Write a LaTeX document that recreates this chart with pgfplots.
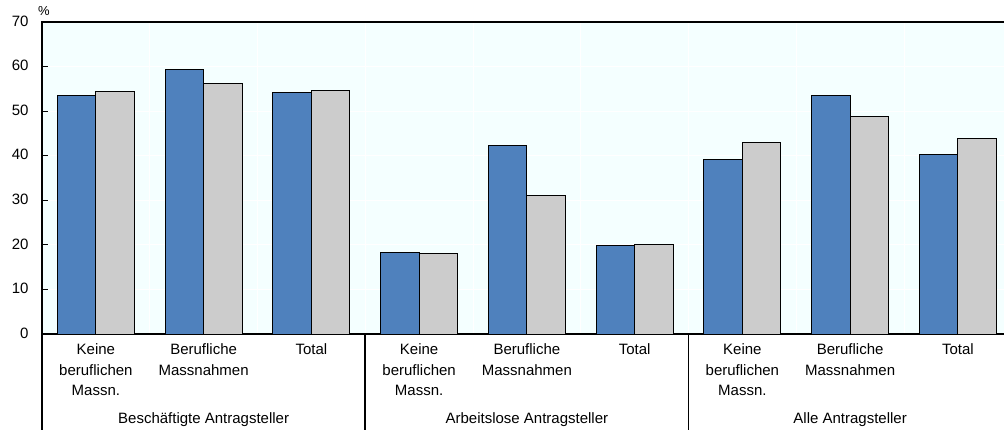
\documentclass[border=0pt]{standalone}
\usepackage{pgfplots}
\pgfplotsset{compat=1.18}
\usepackage{fontspec}
\setmainfont{Liberation Sans}
\definecolor{barblue}{RGB}{79,129,189}
\definecolor{bargrey}{RGB}{204,204,204}
\definecolor{bgcol}{RGB}{244,255,255}
\begin{document}
\begin{tikzpicture}
\useasboundingbox (-42pt,-96pt) rectangle (962pt,334pt);
\begin{axis}[
  at={(0,0)}, anchor=south west,
  scale only axis, width=969.75pt, height=312pt,
  xmin=-0.5, xmax=8.5, ymin=0, ymax=70,
  ybar=0pt, bar width=38.5pt,
  axis background/.style={fill=bgcol},
  axis line style={line width=1.6pt},
  clip=false,
  ytick={0,10,...,70},
  xtick={0,...,8},
  xticklabels={{Keine\\beruflichen\\Massn.},{Berufliche\\Massnahmen},Total,{Keine\\beruflichen\\Massn.},{Berufliche\\Massnahmen},Total,{Keine\\beruflichen\\Massn.},{Berufliche\\Massnahmen},Total},
  xticklabel style={align=center, font=\fontsize{15}{20.7}\selectfont, anchor=north, yshift=-6pt},
  yticklabel style={font=\fontsize{15}{18}\selectfont, xshift=-10pt, yshift=1pt},
  /pgf/number format/assume math mode=true,
  tick align=inside,
  major tick length=6pt,
  xtick style={draw=none},
  ytick style={line width=0.8pt, black},
  ymajorgrids, major grid style={white, line width=0.8pt},
  minor xtick={0.5,1.5,...,7.5},
  xminorgrids, minor grid style={white, line width=0.8pt},
  minor tick length=0pt,
  tick pos=left,
]
\addplot[fill=barblue, draw=black, line width=0.8pt] coordinates {(0,53.6) (1,59.4) (2,54.1) (3,18.3) (4,42.3) (5,19.8) (6,39.2) (7,53.6) (8,40.3)};
\addplot[fill=bargrey, draw=black, line width=0.8pt] coordinates {(0,54.5) (1,56.2) (2,54.7) (3,18.0) (4,31.0) (5,20.0) (6,42.9) (7,48.8) (8,43.8)};
\draw[line width=1.6pt] (axis cs:-0.5,0) -- ([yshift=-100pt]axis cs:-0.5,0);
\draw[line width=1.6pt] (axis cs:2.5,0) -- ([yshift=-100pt]axis cs:2.5,0);
\draw[line width=1.6pt] (axis cs:5.5,0) -- ([yshift=-100pt]axis cs:5.5,0);
\node[font=\fontsize{15}{18}\selectfont, anchor=base] at ([yshift=-90pt]axis cs:1,0) {Beschäftigte Antragsteller};
\node[font=\fontsize{15}{18}\selectfont, anchor=base] at ([yshift=-90pt]axis cs:4,0) {Arbeitslose Antragsteller};
\node[font=\fontsize{15}{18}\selectfont, anchor=base] at ([yshift=-90pt]axis cs:7,0) {Alle Antragsteller};
\node[font=\fontsize{13}{15}\selectfont] at ([xshift=2pt,yshift=11pt]rel axis cs:0,1) {\%};
\end{axis}
\end{tikzpicture}
\end{document}
